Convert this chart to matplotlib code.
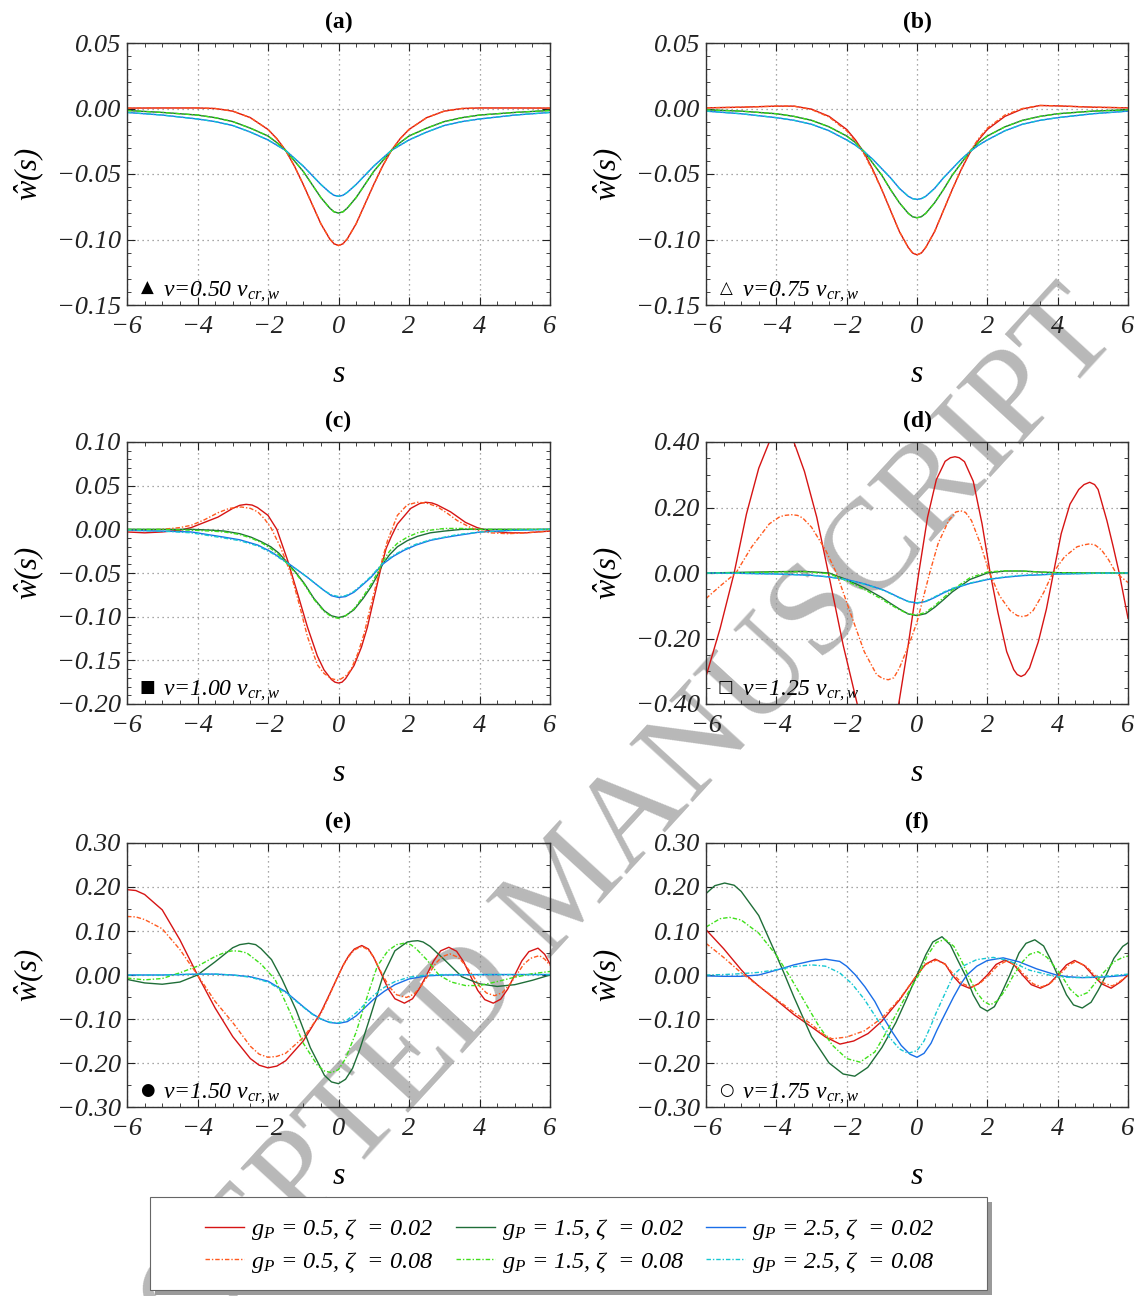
import matplotlib
matplotlib.use("Agg")
import matplotlib.pyplot as plt
from matplotlib.ticker import MultipleLocator, FuncFormatter
from matplotlib.patches import Rectangle

# ---------------- data ----------------
# panels (a), (b): shared s grid
S_AB = [-6, -5, -4, -3.5, -3, -2.5, -2, -1.75, -1.5, -1.25, -1, -0.75, -0.5, -0.25, -0.125, 0,
        0.125, 0.25, 0.5, 0.75, 1, 1.25, 1.5, 1.75, 2, 2.5, 3, 3.5, 4, 5, 6]

A_RED = [0.0003, 0.0004, 0.0004, 0.0, -0.002, -0.007, -0.016, -0.023, -0.032, -0.044, -0.058, -0.073, -0.088, -0.0995, -0.1033, -0.1046,
         -0.1033, -0.0995, -0.088, -0.073, -0.058, -0.044, -0.032, -0.023, -0.016, -0.007, -0.002, 0.0, 0.0004, 0.0004, 0.0003]
A_GREEN = [-0.0015, -0.003, -0.005, -0.007, -0.010, -0.015, -0.021, -0.026, -0.032, -0.040, -0.048, -0.058, -0.068, -0.076, -0.0789, -0.0798,
           -0.0789, -0.076, -0.068, -0.058, -0.048, -0.040, -0.032, -0.026, -0.021, -0.015, -0.010, -0.007, -0.005, -0.003, -0.0015]
A_BLUE = [-0.003, -0.005, -0.008, -0.010, -0.013, -0.018, -0.024, -0.028, -0.032, -0.038, -0.044, -0.051, -0.058, -0.064, -0.0663, -0.067,
          -0.0663, -0.064, -0.058, -0.051, -0.044, -0.038, -0.032, -0.028, -0.024, -0.018, -0.013, -0.010, -0.008, -0.005, -0.003]
A_ORANGE = [0.0003, 0.0004, 0.0004, 0.0, -0.002, -0.007, -0.016, -0.023, -0.032, -0.044, -0.058, -0.073, -0.088, -0.0995, -0.1033, -0.1046,
            -0.1033, -0.0995, -0.088, -0.073, -0.058, -0.044, -0.032, -0.023, -0.016, -0.007, -0.002, 0.0, 0.0004, 0.0004, 0.0003]
A_LGREEN = [-0.0015, -0.003, -0.005, -0.007, -0.010, -0.015, -0.021, -0.026, -0.032, -0.040, -0.048, -0.058, -0.068, -0.076, -0.0789, -0.0798,
            -0.0789, -0.076, -0.068, -0.058, -0.048, -0.040, -0.032, -0.026, -0.021, -0.015, -0.010, -0.007, -0.005, -0.003, -0.0015]
A_CYAN = [-0.003, -0.005, -0.008, -0.010, -0.013, -0.018, -0.024, -0.028, -0.032, -0.038, -0.044, -0.051, -0.058, -0.064, -0.0663, -0.067,
          -0.0663, -0.064, -0.058, -0.051, -0.044, -0.038, -0.032, -0.028, -0.024, -0.018, -0.013, -0.010, -0.008, -0.005, -0.003]

B_RED = [0.0005, 0.001, 0.0018, 0.0018, -0.0005, -0.006, -0.016, -0.024, -0.034, -0.047, -0.062, -0.078, -0.094, -0.106, -0.1103, -0.1117,
         -0.1103, -0.106, -0.094, -0.078, -0.062, -0.047, -0.034, -0.024, -0.016, -0.006, -0.0003, 0.0023, 0.002, 0.001, 0.0005]
B_GREEN = [-0.001, -0.002, -0.004, -0.006, -0.009, -0.014, -0.021, -0.026, -0.033, -0.042, -0.051, -0.062, -0.072, -0.080, -0.0826, -0.0834,
           -0.0826, -0.080, -0.072, -0.062, -0.051, -0.042, -0.033, -0.026, -0.021, -0.014, -0.009, -0.006, -0.004, -0.002, -0.001]
B_BLUE = [-0.002, -0.004, -0.007, -0.009, -0.012, -0.017, -0.024, -0.028, -0.033, -0.039, -0.046, -0.053, -0.061, -0.067, -0.0688, -0.0694,
          -0.0688, -0.067, -0.061, -0.053, -0.046, -0.039, -0.033, -0.028, -0.024, -0.017, -0.012, -0.009, -0.007, -0.004, -0.002]
B_ORANGE = [0.0005, 0.001, 0.0018, 0.0018, -0.0008, -0.0065, -0.017, -0.025, -0.035, -0.048, -0.062, -0.078, -0.094, -0.106, -0.1103, -0.1117,
            -0.1103, -0.106, -0.094, -0.078, -0.062, -0.047, -0.033, -0.023, -0.015, -0.005, 0.0, 0.0023, 0.002, 0.001, 0.0005]
B_LGREEN = [-0.001, -0.002, -0.004, -0.006, -0.009, -0.014, -0.021, -0.026, -0.033, -0.042, -0.051, -0.062, -0.072, -0.080, -0.0826, -0.0834,
            -0.0826, -0.080, -0.072, -0.062, -0.051, -0.042, -0.033, -0.026, -0.021, -0.014, -0.009, -0.006, -0.004, -0.002, -0.001]
B_CYAN = [-0.002, -0.004, -0.007, -0.009, -0.012, -0.017, -0.024, -0.028, -0.033, -0.039, -0.046, -0.053, -0.061, -0.067, -0.0688, -0.0694,
          -0.0688, -0.067, -0.061, -0.053, -0.046, -0.039, -0.033, -0.028, -0.024, -0.017, -0.012, -0.009, -0.007, -0.004, -0.002]

# panel (c)
C_RED_S = [-6, -5.5, -5, -4.5, -4.18, -3.8, -3.42, -3.0, -2.8, -2.62, -2.45, -2.3, -2.0, -1.75, -1.44, -1.15, -0.88, -0.6, -0.41, -0.2, -0.1, 0,
           0.1, 0.2, 0.44, 0.65, 0.82, 1.0, 1.2, 1.35, 1.5, 1.67, 2.05, 2.3, 2.47, 2.65, 2.8, 3.18, 3.6, 3.93, 4.3, 4.8, 5.3, 6]
C_RED_W = [-0.003, -0.004, -0.003, -0.001, 0.002, 0.008, 0.014, 0.024, 0.0275, 0.0286, 0.0278, 0.025, 0.016, 0.0, -0.036, -0.075, -0.112, -0.145, -0.161, -0.172, -0.175, -0.176,
           -0.175, -0.171, -0.156, -0.135, -0.112, -0.080, -0.045, -0.022, -0.008, 0.006, 0.024, 0.0295, 0.031, 0.0302, 0.028, 0.020, 0.008, 0.002, -0.002, -0.004, -0.004, -0.002]
C_ORANGE_S = [-6, -5.5, -5, -4.5, -4.18, -3.8, -3.42, -3.1, -2.76, -2.5, -2.29, -2.1, -1.92, -1.65, -1.35, -1.1, -0.88, -0.6, -0.41, -0.2, 0,
              0.2, 0.35, 0.55, 0.73, 0.9, 1.1, 1.25, 1.39, 1.67, 1.95, 2.24, 2.5, 2.8, 3.1, 3.37, 3.7, 3.93, 4.3, 4.8, 5.3, 6]
C_ORANGE_W = [-0.001, -0.001, 0.0, 0.002, 0.0046, 0.011, 0.019, 0.024, 0.0256, 0.024, 0.020, 0.012, 0.002, -0.020, -0.051, -0.088, -0.123, -0.155, -0.165, -0.171, -0.173,
              -0.168, -0.161, -0.142, -0.119, -0.090, -0.058, -0.033, -0.013, 0.016, 0.028, 0.031, 0.030, 0.026, 0.018, 0.010, 0.003, -0.001, -0.004, -0.005, -0.004, -0.002]
C_GREEN_S = [-6, -5, -4.18, -3.6, -3.24, -2.8, -2.48, -2.2, -1.92, -1.7, -1.44, -1.2, -0.97, -0.7, -0.41, -0.2, 0,
             0.2, 0.44, 0.7, 0.92, 1.1, 1.25, 1.45, 1.67, 1.95, 2.24, 2.6, 3.0, 3.5, 4.0, 5.0, 6.0]
C_GREEN_W = [0.0, 0.0, 0.0, -0.001, -0.002, -0.005, -0.009, -0.014, -0.020, -0.027, -0.0385, -0.050, -0.062, -0.079, -0.093, -0.099, -0.101,
             -0.099, -0.092, -0.079, -0.066, -0.053, -0.040, -0.029, -0.020, -0.013, -0.008, -0.004, -0.002, 0.0, 0.0, 0.0, 0.0]
C_LGREEN_W = [0.0, 0.0, -0.001, -0.002, -0.003, -0.006, -0.010, -0.015, -0.022, -0.029, -0.040, -0.051, -0.063, -0.080, -0.094, -0.100, -0.102,
              -0.099, -0.091, -0.077, -0.063, -0.050, -0.037, -0.025, -0.016, -0.009, -0.004, -0.001, 0.001, 0.001, 0.0, 0.0, 0.0]
C_BLUE_S = [-6, -5, -4.18, -3.24, -2.8, -2.29, -1.9, -1.44, -1.15, -0.88, -0.6, -0.41, -0.2, 0,
            0.2, 0.44, 0.7, 0.92, 1.25, 1.55, 1.86, 2.2, 2.61, 3.0, 3.37, 4.03, 5.0, 6.0]
C_BLUE_W = [-0.001, -0.002, -0.003, -0.009, -0.012, -0.018, -0.026, -0.0385, -0.047, -0.055, -0.064, -0.070, -0.076, -0.078,
            -0.077, -0.072, -0.063, -0.055, -0.040, -0.031, -0.024, -0.018, -0.0126, -0.0095, -0.007, -0.003, -0.001, 0.0]
C_CYAN_W = [-0.001, -0.002, -0.004, -0.010, -0.013, -0.019, -0.027, -0.039, -0.047, -0.055, -0.064, -0.070, -0.075, -0.077,
            -0.076, -0.071, -0.062, -0.054, -0.039, -0.030, -0.023, -0.017, -0.012, -0.009, -0.006, -0.003, -0.001, 0.0]

# panel (d)
D_RED_S = [-6, -5.6, -5.2, -4.85, -4.5, -4.2, -3.85, -3.5, -3.2, -2.85, -2.52, -2.1, -1.7, -1.4, -1.1, -0.8, -0.52, -0.25, 0.05,
           0.3, 0.55, 0.8, 0.95, 1.08, 1.2, 1.35, 1.6, 1.85, 2.08, 2.3, 2.55, 2.75, 2.85, 2.96, 3.07, 3.2, 3.45, 3.68, 3.88,
           4.1, 4.35, 4.6, 4.75, 4.91, 5.05, 5.15, 5.4, 5.58, 5.75, 6.0]
D_RED_W = [-0.316, -0.17, 0.0, 0.18, 0.32, 0.40, 0.43, 0.40, 0.31, 0.17, 0.0, -0.22, -0.40, -0.50, -0.53, -0.49, -0.40, -0.22, 0.0,
           0.17, 0.285, 0.341, 0.352, 0.355, 0.352, 0.34, 0.28, 0.15, 0.0, -0.12, -0.24, -0.295, -0.31, -0.316, -0.31, -0.29, -0.21, -0.11, 0.0,
           0.12, 0.21, 0.255, 0.27, 0.277, 0.27, 0.255, 0.16, 0.08, 0.0, -0.138]
D_ORANGE_S = [-6, -5.6, -5.15, -4.7, -4.2, -3.9, -3.75, -3.57, -3.4, -3.25, -3.0, -2.6, -2.29, -1.9, -1.5, -1.15, -0.98, -0.82, -0.66, -0.5, -0.2, 0.0,
              0.36, 0.6, 0.9, 1.1, 1.24, 1.38, 1.55, 1.8, 2.06, 2.35, 2.65, 2.85, 2.99, 3.13, 3.3, 3.6, 3.86, 4.2, 4.55, 4.75, 4.91, 5.07, 5.25, 5.45, 5.66, 6.0]
D_ORANGE_W = [-0.078, -0.04, 0.0, 0.08, 0.15, 0.172, 0.176, 0.178, 0.176, 0.168, 0.14, 0.07, 0.0, -0.12, -0.24, -0.31, -0.322, -0.326, -0.32, -0.29, -0.21, -0.15,
              0.0, 0.09, 0.16, 0.186, 0.19, 0.185, 0.16, 0.09, 0.0, -0.07, -0.115, -0.13, -0.133, -0.13, -0.115, -0.06, 0.0, 0.05, 0.08, 0.086, 0.089, 0.085, 0.07, 0.04, 0.0, -0.029]
D_GREEN_S = [-6, -5, -4, -3.2, -2.5, -2, -1.5, -1, -0.75, -0.5, -0.25, 0, 0.25, 0.5, 0.75, 1, 1.5, 2, 2.5, 3, 3.5, 4, 5, 6]
D_GREEN_W = [0.0, 0.002, 0.004, 0.005, 0.0, -0.02, -0.045, -0.075, -0.093, -0.11, -0.125, -0.13, -0.124, -0.105, -0.082, -0.058,
             -0.02, 0.0, 0.006, 0.006, 0.003, 0.001, 0.0, 0.0]
D_LGREEN_W = [0.0, 0.001, 0.003, 0.004, -0.002, -0.024, -0.05, -0.08, -0.097, -0.112, -0.125, -0.128, -0.12, -0.1, -0.076, -0.052,
              -0.015, 0.003, 0.007, 0.006, 0.003, 0.001, 0.0, 0.0]
D_BLUE_S = [-6, -5, -4, -3, -2.5, -2, -1.5, -1, -0.75, -0.5, -0.25, 0, 0.25, 0.5, 0.75, 1, 1.5, 2, 2.5, 3, 4, 5, 6]
D_BLUE_W = [0.0, -0.001, -0.003, -0.007, -0.012, -0.02, -0.033, -0.05, -0.062, -0.075, -0.087, -0.092, -0.087, -0.075, -0.061, -0.049,
            -0.032, -0.02, -0.013, -0.008, -0.003, -0.001, 0.0]
D_CYAN_W = [0.0, -0.001, -0.003, -0.007, -0.012, -0.021, -0.034, -0.051, -0.063, -0.076, -0.087, -0.091, -0.086, -0.073, -0.059, -0.047,
            -0.031, -0.019, -0.012, -0.007, -0.003, -0.001, 0.0]

# panel (e)
E_RED_S = [-6, -5.75, -5.5, -5.0, -4.5, -4.0, -3.5, -3.0, -2.5, -2.25, -2.0, -1.75, -1.5, -1.0, -0.5, -0.25, 0.0, 0.15, 0.3, 0.45, 0.66, 0.85,
           1.0, 1.23, 1.4, 1.6, 1.87, 2.1, 2.3, 2.5, 2.7, 2.9, 3.13, 3.35, 3.55, 3.73, 3.95, 4.15, 4.39, 4.6, 4.8, 5.0,
           5.2, 5.4, 5.66, 5.85, 6.0]
E_RED_W = [0.194, 0.192, 0.183, 0.148, 0.08, 0.0, -0.075, -0.14, -0.19, -0.205, -0.211, -0.207, -0.195, -0.15, -0.085, -0.043, 0.0, 0.025, 0.045, 0.059, 0.067, 0.059,
           0.04, 0.0, -0.03, -0.054, -0.064, -0.054, -0.03, 0.0, 0.032, 0.055, 0.063, 0.054, 0.03, 0.0, -0.035, -0.056, -0.064, -0.055, -0.032, 0.0,
           0.032, 0.053, 0.061, 0.047, 0.025]
E_ORANGE_S = [-6, -5.75, -5.5, -5.0, -4.5, -4.0, -3.5, -3.0, -2.5, -2.25, -2.0, -1.75, -1.5, -1.0, -0.5, -0.25, 0.0, 0.15, 0.3, 0.45, 0.66, 0.85,
              1.0, 1.25, 1.45, 1.65, 1.93, 2.15, 2.35, 2.55, 2.75, 2.95, 3.16, 3.4, 3.6, 3.8, 4.0, 4.2, 4.43, 4.65, 4.85, 5.05,
              5.25, 5.45, 5.7, 5.85, 6.0]
E_ORANGE_W = [0.133, 0.132, 0.126, 0.105, 0.058, 0.0, -0.06, -0.108, -0.162, -0.18, -0.187, -0.185, -0.178, -0.142, -0.088, -0.045, 0.0, 0.024, 0.043, 0.057, 0.065, 0.057,
              0.04, 0.0, -0.028, -0.045, -0.051, -0.043, -0.024, 0.0, 0.026, 0.042, 0.048, 0.04, 0.022, 0.0, -0.025, -0.041, -0.047, -0.04, -0.022, 0.0,
              0.024, 0.038, 0.044, 0.036, 0.022]
E_GREEN_S = [-6, -5.5, -5.0, -4.5, -4.0, -3.5, -3.0, -2.8, -2.55, -2.35, -2.2, -1.9, -1.6, -1.2, -0.8, -0.4, -0.2, 0.0, 0.2, 0.4, 0.6, 0.9,
             1.27, 1.6, 1.95, 2.1, 2.25, 2.4, 2.6, 3.0, 3.5, 4.0, 4.5, 5.0, 5.5, 6.0]
E_GREEN_W = [-0.01, -0.018, -0.021, -0.016, 0.0, 0.03, 0.062, 0.069, 0.072, 0.069, 0.06, 0.035, -0.01, -0.08, -0.165, -0.228, -0.243, -0.247, -0.237, -0.212, -0.17, -0.095,
             0.0, 0.055, 0.075, 0.077, 0.078, 0.075, 0.065, 0.035, -0.004, -0.02, -0.026, -0.022, -0.012, 0.0]
E_LGREEN_S = [-6, -5.5, -5.0, -4.5, -4.0, -3.5, -3.2, -3.0, -2.8, -2.6, -2.2, -1.8, -1.4, -1.0, -0.6, -0.4, -0.2, 0.0, 0.2, 0.5, 0.85, 1.1, 1.4, 1.65, 1.85,
              2.05, 2.2, 2.5, 2.85, 3.2, 3.6, 4.0, 4.5, 5.0, 5.5, 6.0]
E_LGREEN_W = [-0.007, -0.011, -0.008, 0.005, 0.02, 0.042, 0.052, 0.055, 0.054, 0.05, 0.025, -0.01, -0.08, -0.155, -0.205, -0.218, -0.222, -0.215, -0.19, -0.13, -0.04, 0.02, 0.055, 0.069, 0.072,
              0.069, 0.06, 0.035, 0.0, -0.016, -0.024, -0.024, -0.015, -0.005, 0.003, 0.008]
E_BLUE_S = [-6, -5, -4, -3.5, -3, -2.5, -2, -1.5, -1, -0.75, -0.5, -0.25, 0, 0.25, 0.5, 0.75, 1, 1.3, 1.6, 2, 2.5, 3, 4, 5, 6]
E_BLUE_W = [0.0, 0.0, 0.002, 0.002, 0.0, -0.004, -0.014, -0.038, -0.072, -0.088, -0.1, -0.108, -0.110, -0.106, -0.093, -0.074, -0.055,
            -0.037, -0.022, -0.009, -0.002, 0.0, 0.001, 0.001, 0.001]
E_CYAN_W = [0.0, 0.0, 0.002, 0.002, 0.0, -0.005, -0.016, -0.04, -0.073, -0.089, -0.1, -0.107, -0.109, -0.102, -0.086, -0.066, -0.046,
            -0.028, -0.015, -0.005, 0.0, 0.001, 0.001, 0.001, 0.001]

# panel (f)
F_RED_S = [-6, -5.5, -5.0, -4.86, -4.5, -4.0, -3.5, -3.0, -2.6, -2.19, -1.8, -1.39, -1.0, -0.5, 0.0, 0.25, 0.52, 0.8, 1.0, 1.25,
           1.49, 1.75, 2.0, 2.25, 2.5, 2.75, 3.0, 3.25, 3.51, 3.75, 4.0, 4.25, 4.48, 4.75, 5.0, 5.25, 5.52, 5.8, 6.0]
F_RED_W = [0.103, 0.06, 0.012, 0.0, -0.025, -0.057, -0.09, -0.118, -0.141, -0.157, -0.15, -0.133, -0.105, -0.057, 0.0, 0.025, 0.036, 0.025, 0.0, -0.022,
           -0.030, -0.02, 0.0, 0.024, 0.034, 0.024, 0.0, -0.022, -0.030, -0.021, 0.0, 0.023, 0.033, 0.022, 0.0, -0.02, -0.030, -0.015, 0.0]
F_ORANGE_S = [-6, -5.5, -5.0, -4.5, -4.0, -3.5, -3.0, -2.7, -2.42, -2.0, -1.5, -1.0, -0.5, 0.0, 0.25, 0.55, 0.8, 1.05, 1.3, 1.55,
              1.8, 2.05, 2.3, 2.55, 2.8, 3.05, 3.3, 3.55, 3.8, 4.05, 4.3, 4.52, 4.8, 5.05, 5.3, 5.55, 5.8, 6.0]
F_ORANGE_W = [0.072, 0.04, 0.005, -0.025, -0.055, -0.085, -0.112, -0.133, -0.145, -0.141, -0.127, -0.098, -0.055, 0.0, 0.024, 0.034, 0.024, 0.0, -0.02, -0.028,
              -0.018, 0.0, 0.022, 0.032, 0.022, 0.0, -0.02, -0.027, -0.018, 0.0, 0.022, 0.031, 0.02, 0.0, -0.018, -0.025, -0.013, 0.0]
F_GREEN_S = [-6, -5.75, -5.47, -5.2, -5.0, -4.5, -4.0, -3.76, -3.5, -3.0, -2.5, -2.1, -1.77, -1.4, -1.0, -0.6, -0.3, 0.0, 0.25, 0.45, 0.71,
             0.95, 1.15, 1.37, 1.6, 1.8, 2.0, 2.2, 2.4, 2.64, 2.9, 3.1, 3.35, 3.6, 3.8, 4.0, 4.25, 4.45, 4.7, 4.95, 5.15,
             5.38, 5.6, 5.85, 6.0]
F_GREEN_W = [0.185, 0.203, 0.209, 0.204, 0.19, 0.135, 0.045, 0.0, -0.05, -0.14, -0.2, -0.225, -0.230, -0.21, -0.165, -0.108, -0.055, 0.0, 0.046, 0.075, 0.087,
             0.068, 0.035, 0.0, -0.045, -0.073, -0.082, -0.072, -0.042, 0.0, 0.05, 0.072, 0.08, 0.066, 0.035, 0.0, -0.045, -0.068, -0.075, -0.062, -0.035,
             0.0, 0.038, 0.065, 0.073]
F_LGREEN_S = [-6, -5.6, -5.33, -5.0, -4.5, -4.0, -3.64, -3.2, -2.8, -2.4, -2.0, -1.62, -1.2, -0.8, -0.4, 0.05, 0.3, 0.55, 0.8, 1.05,
              1.25, 1.45, 1.7, 1.9, 2.08, 2.3, 2.5, 2.75, 3.0, 3.2, 3.44, 3.7, 3.9, 4.1, 4.35, 4.58, 4.85, 5.1, 5.3, 5.6,
              5.85, 6.0]
F_LGREEN_W = [0.109, 0.128, 0.131, 0.125, 0.095, 0.045, 0.0, -0.06, -0.115, -0.16, -0.19, -0.198, -0.175, -0.12, -0.06, 0.0, 0.045, 0.074, 0.081, 0.065,
              0.035, 0.0, -0.04, -0.06, -0.068, -0.058, -0.035, 0.0, 0.03, 0.047, 0.053, 0.04, 0.02, 0.0, -0.032, -0.049, -0.04, -0.015, 0.005, 0.03,
              0.04, 0.043]
F_BLUE_S = [-6, -5.5, -5.0, -4.5, -4.0, -3.5, -3.0, -2.6, -2.2, -2.0, -1.75, -1.48, -1.2, -0.97, -0.7, -0.45, -0.2, 0.0, 0.2, 0.4,
            0.57, 0.8, 1.04, 1.25, 1.42, 1.7, 2.0, 2.45, 2.9, 3.4, 3.96, 4.3, 4.7, 5.2, 5.6, 6.0]
F_BLUE_W = [-0.002, -0.003, -0.003, 0.0, 0.011, 0.023, 0.032, 0.036, 0.031, 0.02, 0.0, -0.027, -0.06, -0.095, -0.13, -0.16, -0.18, -0.187, -0.178, -0.155,
            -0.125, -0.088, -0.05, -0.02, 0.0, 0.02, 0.033, 0.039, 0.03, 0.014, 0.0, -0.004, -0.006, -0.005, -0.003, 0.0]
F_CYAN_S = [-6, -5.5, -5.0, -4.5, -4.0, -3.5, -3.0, -2.6, -2.2, -1.86, -1.5, -1.11, -0.8, -0.5, -0.26, 0.0, 0.2, 0.38, 0.55, 0.75,
            1.04, 1.3, 1.7, 2.17, 2.6, 3.2, 3.96, 4.5, 5.2, 6.0]
F_CYAN_W = [0.0, 0.001, 0.003, 0.006, 0.012, 0.019, 0.023, 0.02, 0.005, -0.019, -0.055, -0.103, -0.14, -0.168, -0.178, -0.172, -0.15, -0.118, -0.085, -0.05,
            0.0, 0.02, 0.035, 0.040, 0.033, 0.011, -0.004, -0.006, -0.004, 0.002]

SPEEDS = ["0.50", "0.75", "1.00", "1.25", "1.50", "1.75"]
SYMBOLS = ["\u25B2", "\u25B3", "\u25A0", "\u25A1", "\u25CF", "\u25CB"]
TITLES = ["(a)", "(b)", "(c)", "(d)", "(e)", "(f)"]
LABELS = [r"$g_P$ = 0.5, $\zeta$  = 0.02", r"$g_P$ = 0.5, $\zeta$  = 0.08",
          r"$g_P$ = 1.5, $\zeta$  = 0.02", r"$g_P$ = 1.5, $\zeta$  = 0.08",
          r"$g_P$ = 2.5, $\zeta$  = 0.02", r"$g_P$ = 2.5, $\zeta$  = 0.08"]

# ---------------- style ----------------
plt.rcParams.update({
    "font.family": "Liberation Serif",
    "font.style": "italic",
    "mathtext.fontset": "custom",
    "mathtext.it": "Liberation Serif:italic",
    "mathtext.rm": "Liberation Serif:italic",
    "mathtext.bf": "Liberation Serif:bold",
    "mathtext.default": "it",
})

RED, ORANGE = "#d61414", "#ff5a1f"
DGREEN, LGREEN = "#1f6e38", "#3fe01a"
BLUE, CYAN = "#1a6ee8", "#16c8d2"
DASH = (0, (3.2, 1.4, 1.0, 1.4))


def num_fmt(decimals):
    def f(v, pos):
        s = f"{v:.{decimals}f}"
        if s.startswith("-"):
            if float(s) == 0:
                return s[1:]
            return "\u2212" + s[1:]
        return s
    return FuncFormatter(f)


fig = plt.figure(figsize=(11.41, 12.96), dpi=100)

W_PX, H_PX = 1141, 1296
col_left = [127, 706]
col_width = [423, 422]
row_top = [43, 442, 843]
row_bot = [305, 704, 1107]

ylims = [(-0.15, 0.05), (-0.15, 0.05), (-0.20, 0.10), (-0.40, 0.40), (-0.30, 0.30), (-0.30, 0.30)]
ymajor = [0.05, 0.05, 0.05, 0.20, 0.10, 0.10]
yminor = [0.01, 0.01, 0.01, 0.05, 0.05, 0.05]

curves = [
    [(S_AB, A_RED), (S_AB, A_GREEN), (S_AB, A_BLUE), (S_AB, A_ORANGE), (S_AB, A_LGREEN), (S_AB, A_CYAN)],
    [(S_AB, B_RED), (S_AB, B_GREEN), (S_AB, B_BLUE), (S_AB, B_ORANGE), (S_AB, B_LGREEN), (S_AB, B_CYAN)],
    [(C_RED_S, C_RED_W), (C_GREEN_S, C_GREEN_W), (C_BLUE_S, C_BLUE_W),
     (C_ORANGE_S, C_ORANGE_W), (C_GREEN_S, C_LGREEN_W), (C_BLUE_S, C_CYAN_W)],
    [(D_RED_S, D_RED_W), (D_GREEN_S, D_GREEN_W), (D_BLUE_S, D_BLUE_W),
     (D_ORANGE_S, D_ORANGE_W), (D_GREEN_S, D_LGREEN_W), (D_BLUE_S, D_CYAN_W)],
    [(E_RED_S, E_RED_W), (E_GREEN_S, E_GREEN_W), (E_BLUE_S, E_BLUE_W),
     (E_ORANGE_S, E_ORANGE_W), (E_LGREEN_S, E_LGREEN_W), (E_BLUE_S, E_CYAN_W)],
    [(F_RED_S, F_RED_W), (F_GREEN_S, F_GREEN_W), (F_BLUE_S, F_BLUE_W),
     (F_ORANGE_S, F_ORANGE_W), (F_LGREEN_S, F_LGREEN_W), (F_CYAN_S, F_CYAN_W)],
]
colors = [RED, DGREEN, BLUE, ORANGE, LGREEN, CYAN]
styles = ["-", "-", "-", DASH, DASH, DASH]

handles = {}
for i in range(6):
    r, c = divmod(i, 2)
    left = col_left[c] / W_PX
    width = col_width[c] / W_PX
    bottom = 1 - row_bot[r] / H_PX
    height = (row_bot[r] - row_top[r]) / H_PX
    ax = fig.add_axes([left, bottom, width, height])
    ax.set_facecolor("none")

    for k, (xs, ys) in enumerate(curves[i]):
        ln, = ax.plot(xs, ys, color=colors[k], linestyle=styles[k], lw=1.0)
        handles.setdefault(k, ln)

    ax.set_xlim(-6, 6)
    ax.set_ylim(*ylims[i])
    ax.xaxis.set_major_locator(MultipleLocator(2))
    ax.xaxis.set_minor_locator(MultipleLocator(0.5))
    ax.yaxis.set_major_locator(MultipleLocator(ymajor[i]))
    ax.yaxis.set_minor_locator(MultipleLocator(yminor[i]))
    ax.xaxis.set_major_formatter(num_fmt(0))
    ax.yaxis.set_major_formatter(num_fmt(2))
    ax.tick_params(which="both", direction="in", top=True, right=True, colors="#222222")
    ax.tick_params(which="major", length=6, width=0.8, labelsize=19)
    ax.tick_params(which="minor", length=3, width=0.6)
    ax.tick_params(axis="x", pad=8)
    ax.tick_params(axis="y", pad=4)
    for sp in ax.spines.values():
        sp.set_color("#333333")
        sp.set_linewidth(1.0)
    ax.grid(which="major", linestyle=(0, (1, 3)), color="#8a8a8a", lw=0.9)

    ax.set_title(TITLES[i], fontsize=17, fontweight="bold", fontstyle="normal", pad=11)
    ax.set_xlabel("$s$", fontsize=23)
    ax.xaxis.set_label_coords(0.5, -0.21)
    ax.set_ylabel(r"$\hat{w}(s)$", fontsize=22)
    ax.yaxis.set_label_coords(-0.19, 0.5)

    ax.text(0.047, 0.065, SYMBOLS[i], transform=ax.transAxes, family="DejaVu Sans",
            fontstyle="normal", fontsize=12, ha="center", va="center")
    ax.text(0.085, 0.034, r"$v$=" + SPEEDS[i] + r" $v_{cr,w}$", transform=ax.transAxes,
            fontsize=17, ha="left", va="baseline")

# legend with a framed, shadowed box
box_x0, box_x1, box_y0, box_y1 = 150, 987, 1197, 1290
fig.add_artist(Rectangle(((box_x0 + 5) / W_PX, 1 - (box_y1 + 5) / H_PX),
                         (box_x1 - box_x0) / W_PX, (box_y1 - box_y0) / H_PX,
                         transform=fig.transFigure, facecolor="#9a9a9a", edgecolor="none", zorder=1.8))
fig.add_artist(Rectangle((box_x0 / W_PX, 1 - box_y1 / H_PX),
                         (box_x1 - box_x0) / W_PX, (box_y1 - box_y0) / H_PX,
                         transform=fig.transFigure, facecolor="white", edgecolor="#666666", lw=0.8, zorder=2))
order = [0, 3, 1, 4, 2, 5]
leg = fig.legend([handles[k] for k in order], LABELS, loc="center",
                 bbox_to_anchor=(570 / W_PX, 1 - 1246 / H_PX),
                 ncol=3, frameon=False, fontsize=17.5, handlelength=1.6, handletextpad=0.3,
                 columnspacing=0.9, labelspacing=0.3)
leg.set_zorder(3)

# journal watermark
fig.text(570 / W_PX, 1 - 890 / H_PX, "ACCEPTED MANUSCRIPT", rotation=47.5, rotation_mode="anchor",
         ha="center", va="center", fontsize=95, fontstyle="normal", color="#b8b8b8", zorder=-1)

fig.savefig("out.png", dpi=100)
